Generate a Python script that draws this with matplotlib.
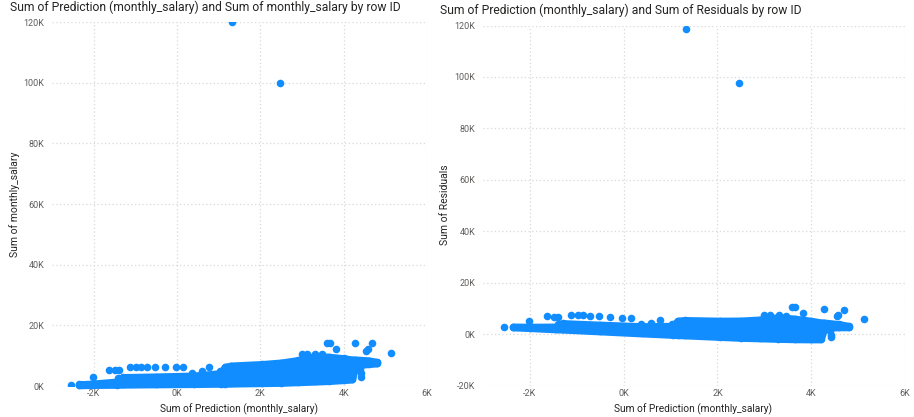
import matplotlib
matplotlib.use("Agg")
import matplotlib.pyplot as plt
from matplotlib.ticker import FuncFormatter

# ---------------- data (values in thousands) ----------------
# envelope of the dense point cloud: Prediction vs monthly_salary
cloud_pred  = [-2.35, -2.0, -1.45, -1.3, -0.5, 0.4, 1.05, 1.15, 1.3, 2.05, 2.5, 2.9, 3.3, 3.65, 4.0, 4.2, 4.28, 4.6, 4.8]
cloud_upper = [0.5, 0.8, 1.4, 2.9, 3.1, 3.4, 4.2, 6.3, 6.7, 7.2, 7.7, 8.5, 9.8, 9.6, 9.1, 8.7, 8.7, 8.4, 7.9]
cloud_lower = [0.3, 0.4, 0.45, 0.5, 0.6, 0.7, 0.8, 0.8, 0.85, 1.0, 1.1, 1.3, 1.5, 1.7, 2.0, 2.2, 6.8, 7.3, 7.5]

# individual points standing out of the cloud (Prediction, monthly_salary)
pt_pred = [-2.55, -2.02, -1.63, -1.48, -1.40, -1.41,
           -1.12, -0.98, -0.87, -0.72, -0.53, -0.30, -0.03, 0.15,
           0.37, 0.59, 0.77, 1.03,
           2.99, 3.12, 3.31, 3.47, 3.82, 3.60, 3.66, 4.27, 4.69, 4.54, 4.58, 5.13,
           4.42, 4.42, 4.40,
           1.33, 2.46]
pt_salary = [0.3, 3.1, 5.3, 5.3, 5.3, 2.7,
             6.4, 6.4, 6.4, 6.4, 6.4, 6.4, 6.4, 6.4,
             4.4, 4.9, 6.2, 5.0,
             10.5, 10.6, 10.6, 10.6, 12.1, 14.1, 14.1, 14.1, 14.1, 11.6, 12.1, 10.8,
             4.2, 3.1, 5.5,
             120.0, 100.0]

# residuals = monthly_salary - prediction
resid_upper = [u - p for u, p in zip(cloud_upper, cloud_pred)]
resid_lower = [l - p for l, p in zip(cloud_lower, cloud_pred)]
pt_resid = [s - p for s, p in zip(pt_salary, pt_pred)]

x_ticks = [-2, 0, 2, 4, 6]
left_y_ticks = [0, 20, 40, 60, 80, 100, 120]
right_y_ticks = [-20, 0, 20, 40, 60, 80, 100, 120]

titles = ["Sum of Prediction (monthly_salary) and Sum of monthly_salary by row ID",
          "Sum of Prediction (monthly_salary) and Sum of Residuals by row ID"]
x_label = "Sum of Prediction (monthly_salary)"
y_labels = ["Sum of monthly_salary", "Sum of Residuals"]

# ---------------- styling ----------------
BLUE = "#118DFF"
GRID = "#D9D9D9"
TICK = "#605E5C"
DARK = "#252423"
FONT = ["Roboto", "DejaVu Sans"]
plt.rcParams["font.family"] = FONT

W, H = 914, 417
fig = plt.figure(figsize=(W / 100, H / 100), dpi=100)
fig.patch.set_facecolor("white")

def fa(x0, y0, x1, y1):
    return [x0 / W, 1 - y1 / H, (x1 - x0) / W, (y1 - y0) / H]

ax1 = fig.add_axes(fa(52, 22, 427, 386))
ax2 = fig.add_axes(fa(483, 25.5, 905, 385.5))

kfmt = FuncFormatter(lambda v, _: f"{v:.0f}K")
ms = 30  # marker area (pt^2)

def style(ax, ylim, yticks):
    ax.set_xlim(-3, 6)
    ax.set_ylim(*ylim)
    ax.set_xticks(x_ticks)
    ax.set_yticks(yticks)
    ax.xaxis.set_major_formatter(kfmt)
    ax.yaxis.set_major_formatter(kfmt)
    for s in ax.spines.values():
        s.set_visible(False)
    ax.tick_params(length=0, labelsize=6.5, labelcolor=TICK)
    ax.tick_params(axis="x", pad=2.5)
    ax.tick_params(axis="y", pad=5.5)
    ax.grid(True, color=GRID, linestyle=(0, (1, 2)), linewidth=0.9)
    ax.set_axisbelow(True)
    ax.set_facecolor("white")

style(ax1, (0, 120), left_y_ticks)
style(ax2, (-20, 120), right_y_ticks)

# left: prediction vs salary
ax1.fill_between(cloud_pred, cloud_lower, cloud_upper, facecolor=BLUE, edgecolor=BLUE,
                 linewidth=5.3, joinstyle="round", clip_on=False, zorder=2)
ax1.scatter(cloud_pred + cloud_pred, cloud_upper + cloud_lower, s=ms, color=BLUE,
            linewidths=0, clip_on=False, zorder=3)
ax1.scatter(pt_pred, pt_salary, s=ms, color=BLUE, linewidths=0, zorder=3)

# right: prediction vs residuals
ax2.fill_between(cloud_pred, resid_lower, resid_upper, facecolor=BLUE, edgecolor=BLUE,
                 linewidth=5.3, joinstyle="round", zorder=2)
ax2.scatter(cloud_pred + cloud_pred, resid_upper + resid_lower, s=ms, color=BLUE,
            linewidths=0, zorder=3)
ax2.scatter(pt_pred, pt_resid, s=ms, color=BLUE, linewidths=0, zorder=3)

# texts
t1 = fig.text(10 / W, 1 - 7 / H, titles[0], ha="left", va="center", color=DARK, fontsize=8.5)
t2 = fig.text(440 / W, 1 - 10 / H, titles[1], ha="left", va="center", color=DARK, fontsize=8.5)
xl1 = fig.text(239 / W, 1 - 409 / H, x_label, ha="center", va="center", color=DARK, fontsize=7)
xl2 = fig.text(693 / W, 1 - 409 / H, x_label, ha="center", va="center", color=DARK, fontsize=7)
yl1 = fig.text(15 / W, 1 - 204 / H, y_labels[0], ha="center", va="center", rotation=90,
               color=DARK, fontsize=7)
yl2 = fig.text(445 / W, 1 - 205 / H, y_labels[1], ha="center", va="center", rotation=90,
               color=DARK, fontsize=7)

fig.canvas.draw()
r = fig.canvas.get_renderer()
for t, target, vert in [(t1, 388, False), (t2, 357, False), (xl1, 158, False),
                        (xl2, 158, False), (yl1, 105, True), (yl2, 80, True)]:
    bb = t.get_window_extent(r)
    cur = bb.height if vert else bb.width
    t.set_fontsize(t.get_fontsize() * target / cur)

fig.savefig("out.png", dpi=100, facecolor="white")
